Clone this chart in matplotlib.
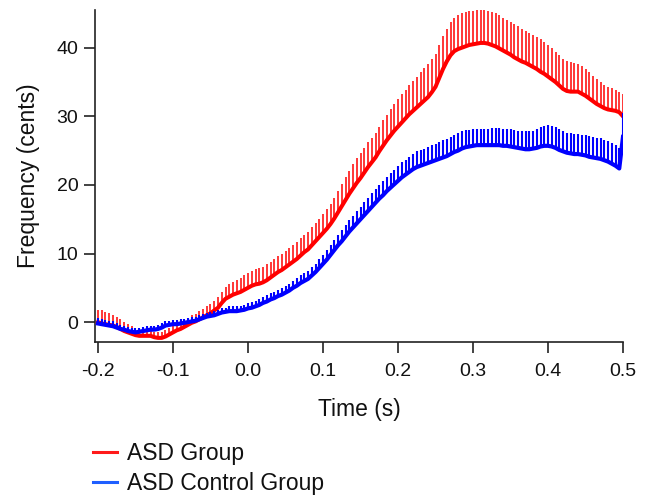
import numpy as np
import matplotlib
matplotlib.use("Agg")
import matplotlib.pyplot as plt
from matplotlib.lines import Line2D

plt.rcParams['font.family'] = ['Liberation Sans', 'DejaVu Sans']

# Time samples (s), every 5 ms from -0.2 to 0.5
time_s = np.linspace(-0.2, 0.5, 141)

asd_mean = [0.0, -0.2, -0.3, -0.4, -0.5, -0.7, -1.0, -1.3, -1.5, -1.7,
            -1.9, -2.0, -2.0, -2.0, -2.0, -2.2, -2.3, -2.3, -2.1, -1.8,
            -1.5, -1.2, -1.0, -0.7, -0.4, -0.1, 0.1, 0.4, 0.7, 1.0,
            1.3, 1.7, 2.1, 2.8, 3.4, 3.7, 4.0, 4.2, 4.4, 4.7,
            5.0, 5.3, 5.5, 5.6, 5.8, 6.1, 6.5, 6.9, 7.3, 7.6,
            8.0, 8.4, 8.8, 9.2, 9.7, 10.2, 10.6, 11.2, 11.8, 12.4,
            13.0, 13.6, 14.3, 15.1, 16.0, 16.9, 17.8, 18.7, 19.5, 20.3,
            21.0, 21.8, 22.6, 23.3, 24.0, 24.9, 25.7, 26.5, 27.2, 27.9,
            28.5, 29.1, 29.7, 30.3, 30.8, 31.3, 31.8, 32.3, 32.8, 33.5,
            34.3, 35.6, 36.9, 38.0, 38.9, 39.5, 39.8, 40.0, 40.2, 40.4,
            40.5, 40.6, 40.7, 40.7, 40.6, 40.4, 40.2, 39.9, 39.6, 39.3,
            39.0, 38.6, 38.3, 38.0, 37.8, 37.5, 37.2, 36.9, 36.5, 36.2,
            35.8, 35.4, 35.0, 34.5, 34.0, 33.7, 33.6, 33.6, 33.6, 33.3,
            33.0, 32.6, 32.2, 31.8, 31.5, 31.2, 31.0, 30.9, 30.8, 30.6,
            30.0]

asd_err = [1.8, 1.9, 1.8, 1.7, 1.6, 1.5, 1.4,
           1.3, 1.2, 1.1, 1.0, 0.9, 0.9, 0.8, 0.8,
           0.8, 0.8, 0.8, 0.9, 0.9, 0.9, 1.0, 1.0,
           1.0, 1.0, 1.1, 1.1, 1.2, 1.2, 1.3, 1.3,
           1.4, 1.5, 1.6, 1.7, 1.8, 1.9, 2.0, 2.0,
           2.1, 2.2, 2.2, 2.3, 2.3, 2.3, 2.3, 2.3,
           2.3, 2.3, 2.3, 2.4, 2.4, 2.4, 2.5, 2.5,
           2.5, 2.6, 2.6, 2.7, 2.7, 2.8, 2.9, 2.9,
           3.0, 3.1, 3.2, 3.3, 3.4, 3.5, 3.6, 3.6,
           3.6, 3.6, 3.6, 3.6, 3.6, 3.7, 3.7, 3.8,
           3.9, 4.0, 4.1, 4.2, 4.3, 4.4, 4.5, 4.6,
           4.7, 4.8, 4.8, 4.8, 4.8, 4.8, 4.8, 4.9,
           4.9, 5.0, 5.0, 5.0, 4.9, 4.9, 4.9, 4.8,
           4.8, 4.8, 4.8, 4.8, 4.8, 4.8, 4.8, 4.8,
           4.8, 4.8, 4.8, 4.7, 4.7, 4.7, 4.7, 4.7,
           4.7, 4.6, 4.5, 4.4, 4.4, 4.4, 4.4, 4.3,
           4.2, 4.1, 4.0, 3.9, 3.8, 3.7, 3.6, 3.5,
           3.4, 3.3, 3.2, 3.1, 3.0, 3.2]

ctrl_mean = [-0.2, -0.3, -0.4, -0.5, -0.6, -0.8, -1.0, -1.1, -1.3, -1.4,
             -1.5, -1.4, -1.3, -1.2, -1.1, -1.1, -1.0, -0.8, -0.5, -0.4,
             -0.3, -0.3, -0.2, -0.1, 0.0, 0.1, 0.2, 0.4, 0.6, 0.8,
             0.9, 1.0, 1.2, 1.4, 1.5, 1.6, 1.6, 1.6, 1.7, 1.8,
             2.0, 2.1, 2.3, 2.5, 2.8, 3.0, 3.3, 3.5, 3.8, 4.0,
             4.3, 4.6, 5.0, 5.3, 5.7, 6.0, 6.3, 6.8, 7.3, 7.9,
             8.5, 9.1, 9.8, 10.5, 11.2, 11.8, 12.5, 13.2, 13.8, 14.4,
             15.0, 15.6, 16.2, 16.8, 17.4, 18.0, 18.5, 19.1, 19.6, 20.1,
             20.6, 21.1, 21.5, 21.9, 22.3, 22.6, 22.8, 23.0, 23.2, 23.4,
             23.6, 23.8, 24.0, 24.2, 24.5, 24.8, 25.0, 25.3, 25.5, 25.6,
             25.7, 25.8, 25.8, 25.8, 25.8, 25.8, 25.8, 25.8, 25.7, 25.7,
             25.6, 25.5, 25.4, 25.3, 25.2, 25.2, 25.3, 25.4, 25.6, 25.7,
             25.7, 25.6, 25.4, 25.1, 24.9, 24.7, 24.6, 24.5, 24.5, 24.4,
             24.3, 24.1, 24.0, 23.9, 23.8, 23.6, 23.4, 23.1, 22.8, 22.4,
             27.0]

ctrl_err = [0.8, 0.8, 0.7, 0.7, 0.7, 0.6, 0.6,
            0.6, 0.6, 0.6, 0.6, 0.6, 0.6, 0.6, 0.6,
            0.6, 0.6, 0.6, 0.6, 0.6, 0.6, 0.6, 0.6,
            0.6, 0.6, 0.6, 0.6, 0.6, 0.6, 0.6, 0.6,
            0.6, 0.6, 0.6, 0.6, 0.7, 0.7, 0.7, 0.7,
            0.7, 0.8, 0.8, 0.8, 0.8, 0.8, 0.9, 0.9,
            0.9, 0.9, 1.0, 1.0, 1.0, 1.0, 1.1, 1.1,
            1.1, 1.2, 1.2, 1.2, 1.3, 1.3, 1.4, 1.4,
            1.5, 1.5, 1.6, 1.6, 1.7, 1.7, 1.8, 1.8,
            1.9, 1.9, 2.0, 2.0, 2.0, 2.1, 2.1, 2.1,
            2.1, 2.1, 2.2, 2.2, 2.2, 2.2, 2.3, 2.3,
            2.3, 2.4, 2.4, 2.4, 2.4, 2.5, 2.5, 2.5,
            2.5, 2.5, 2.5, 2.5, 2.4, 2.4, 2.4, 2.4,
            2.4, 2.4, 2.5, 2.5, 2.5, 2.5, 2.5, 2.5,
            2.5, 2.5, 2.5, 2.6, 2.6, 2.6, 2.7, 2.8,
            2.9, 3.0, 3.0, 3.0, 3.0, 2.9, 2.9, 2.9,
            2.9, 2.9, 2.9, 3.0, 3.0, 3.0, 3.0, 3.0,
            3.0, 3.0, 3.0, 3.0, 3.0, 3.5]

series_labels = ["ASD Group", "ASD Control Group"]
x_ticks = [-0.2, -0.1, 0.0, 0.1, 0.2, 0.3, 0.4, 0.5]
y_ticks = [0, 10, 20, 30, 40]

RED = '#ff0000'
BLUE = '#0000ff'
TXT = '#111111'

fig = plt.figure(figsize=(6.46, 4.95), dpi=100)
ax = fig.add_axes([95/646, 1 - 342/495, (623 - 95)/646, (342 - 10)/495])

am = np.array(asd_mean); ae = np.array(asd_err)
cm = np.array(ctrl_mean); ce = np.array(ctrl_err)

ax.vlines(time_s, am, am + ae, color=RED, lw=1.1, zorder=2)
ax.plot(time_s, am, color=RED, lw=2.9, solid_joinstyle='round', zorder=3)
ax.vlines(time_s, cm, cm + ce, color=BLUE, lw=1.5, zorder=4)
ax.plot(time_s, cm, color=BLUE, lw=3.0, solid_joinstyle='round', zorder=5)

ax.set_xlim(-0.204, 0.5)
ax.set_ylim(-2.9, 45.5)
ax.set_xticks(x_ticks)
ax.set_xticklabels([f"{v:.1f}" for v in x_ticks])
ax.set_yticks(y_ticks)

for s in ['top', 'right']:
    ax.spines[s].set_visible(False)
for s in ['left', 'bottom']:
    ax.spines[s].set_linewidth(1.2)
    ax.spines[s].set_color('#222222')

ax.tick_params(axis='both', direction='out', length=8, width=1.2,
               color='#222222', labelsize=14, labelcolor=TXT)
ax.tick_params(axis='x', pad=7)
ax.tick_params(axis='y', pad=4)

ax.set_xlabel("Time (s)", fontsize=16.5, color=TXT, labelpad=13)
ax.set_ylabel("Frequency (cents)", fontsize=16.5, color=TXT, labelpad=12)

handles = [Line2D([], [], color='#ff1a1a', lw=2.2),
           Line2D([], [], color='#1f5fff', lw=2.2)]
fig.legend(handles, series_labels, loc='upper left',
           bbox_to_anchor=(93/646, 1 - 442/495), frameon=False,
           fontsize=16.5, borderpad=0, borderaxespad=0, handlelength=1.05,
           handletextpad=0.45, labelspacing=0.3, labelcolor=TXT)

fig.savefig("out.png", dpi=100)
